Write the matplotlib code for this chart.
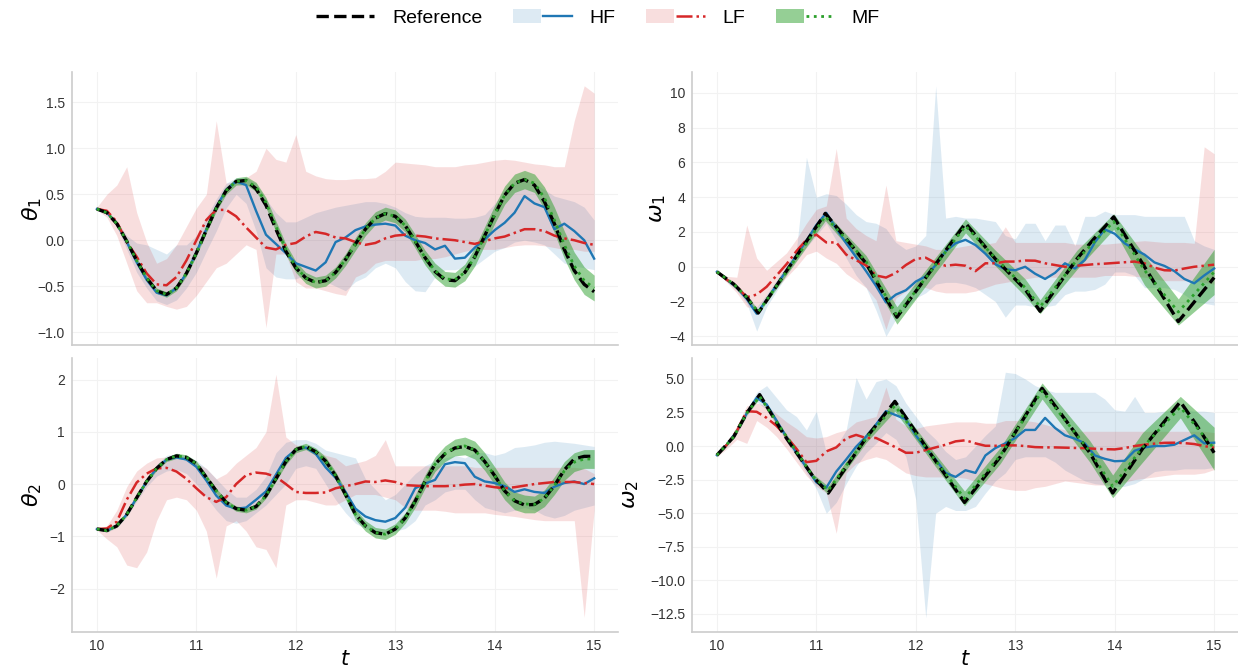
import numpy as np
import matplotlib.pyplot as plt
from matplotlib.legend_handler import HandlerTuple

plt.rcParams['font.family'] = ['Liberation Sans', 'DejaVu Sans']

# common time grid for HF / LF (and MF on the theta panels)
t = np.linspace(10, 15, 51)

# ---------------- theta_1 ----------------
th1_ref = [0.34, 0.30, 0.18, -0.01, -0.22, -0.41, -0.55, -0.59, -0.52, -0.36,
           -0.14, 0.11, 0.35, 0.54, 0.64, 0.65, 0.56, 0.38, 0.12, -0.12,
           -0.30, -0.41, -0.46, -0.44, -0.35, -0.21, -0.04, 0.12, 0.24, 0.29,
           0.26, 0.16, -0.01, -0.19, -0.34, -0.43, -0.44, -0.35, -0.18, 0.05,
           0.28, 0.49, 0.62, 0.66, 0.60, 0.42, 0.18, -0.10, -0.33, -0.48,
           -0.56]
th1_hf = [0.34, 0.30, 0.18, -0.02, -0.24, -0.43, -0.57, -0.60, -0.52, -0.36,
          -0.13, 0.12, 0.36, 0.55, 0.64, 0.60, 0.32, 0.06, -0.04, -0.14,
          -0.25, -0.29, -0.33, -0.24, -0.02, 0.03, 0.11, 0.15, 0.17, 0.18,
          0.16, 0.05, 0.00, -0.03, -0.10, -0.06, -0.20, -0.19, -0.08, 0.01,
          0.11, 0.19, 0.30, 0.48, 0.40, 0.36, 0.12, 0.18, 0.10, 0.00,
          -0.20]
th1_hf_lo = [0.33, 0.28, 0.15, -0.10, -0.35, -0.52, -0.66, -0.70, -0.65, -0.52,
             -0.35, -0.12, 0.10, 0.35, 0.50, 0.40, 0.10, -0.30, -0.40, -0.42,
             -0.42, -0.38, -0.42, -0.45, -0.50, -0.55, -0.45, -0.40, -0.30, -0.25,
             -0.30, -0.45, -0.55, -0.56, -0.40, -0.32, -0.32, -0.30, -0.28, -0.20,
             -0.12, -0.08, -0.02, 0.00, -0.02, -0.05, -0.15, -0.25, -0.28, -0.30,
             -0.32]
th1_hf_hi = [0.35, 0.32, 0.21, 0.05, -0.03, -0.05, -0.10, -0.15, -0.05, -0.05,
             0.05, 0.25, 0.45, 0.62, 0.68, 0.68, 0.62, 0.45, 0.30, 0.20,
             0.20, 0.25, 0.30, 0.33, 0.36, 0.38, 0.40, 0.42, 0.42, 0.40,
             0.36, 0.30, 0.26, 0.25, 0.25, 0.25, 0.24, 0.24, 0.25, 0.28,
             0.40, 0.55, 0.64, 0.66, 0.62, 0.55, 0.48, 0.45, 0.42, 0.36,
             0.22]
th1_lf = [0.34, 0.32, 0.20, -0.02, -0.18, -0.36, -0.48, -0.49, -0.40, -0.22,
          0.00, 0.22, 0.33, 0.33, 0.26, 0.14, 0.03, -0.08, -0.10, -0.05,
          -0.03, 0.04, 0.09, 0.07, 0.03, 0.02, -0.02, -0.05, -0.03, 0.02,
          0.05, 0.06, 0.05, 0.04, 0.02, 0.01, 0.00, -0.02, -0.04, -0.01,
          0.02, 0.04, 0.08, 0.12, 0.12, 0.10, 0.05, 0.02, 0.00, -0.03,
          -0.05]
th1_lf_lo = [0.33, 0.25, 0.05, -0.25, -0.55, -0.68, -0.68, -0.72, -0.75, -0.72,
             -0.60, -0.45, -0.30, -0.25, -0.15, -0.05, -0.10, -0.95, -0.15, -0.15,
             -0.45, -0.52, -0.52, -0.55, -0.58, -0.60, -0.40, -0.35, -0.25, -0.22,
             -0.22, -0.22, -0.22, -0.20, -0.20, -0.18, -0.15, -0.12, -0.10, -0.10,
             -0.10, -0.08, -0.06, -0.05, -0.05, -0.06, -0.08, -0.10, -0.10, -0.12,
             -0.12]
th1_lf_hi = [0.36, 0.50, 0.60, 0.80, 0.30, -0.02, -0.25, -0.20, -0.05, 0.15,
             0.35, 0.50, 1.30, 0.62, 0.64, 0.68, 0.75, 1.00, 0.88, 0.85,
             1.15, 0.75, 0.70, 0.67, 0.66, 0.66, 0.67, 0.67, 0.68, 0.75,
             0.85, 0.84, 0.83, 0.82, 0.80, 0.80, 0.80, 0.82, 0.83, 0.85,
             0.87, 0.88, 0.87, 0.85, 0.83, 0.82, 0.80, 0.80, 1.30, 1.68,
             1.60]
th1_mf = [0.34, 0.30, 0.18, -0.01, -0.22, -0.41, -0.55, -0.59, -0.52, -0.36,
          -0.14, 0.11, 0.35, 0.54, 0.64, 0.65, 0.58, 0.41, 0.15, -0.10,
          -0.29, -0.41, -0.46, -0.44, -0.35, -0.21, -0.04, 0.12, 0.24, 0.29,
          0.26, 0.16, -0.01, -0.19, -0.33, -0.42, -0.43, -0.35, -0.18, 0.05,
          0.28, 0.49, 0.62, 0.66, 0.62, 0.46, 0.22, -0.05, -0.28, -0.44,
          -0.52]
th1_mf_hw = [0.01, 0.01, 0.015, 0.02, 0.02, 0.025, 0.03, 0.03, 0.03, 0.03,
             0.03, 0.03, 0.035, 0.04, 0.04, 0.045, 0.05, 0.055, 0.06, 0.06,
             0.06, 0.06, 0.06, 0.06, 0.06, 0.065, 0.07, 0.07, 0.07, 0.07,
             0.07, 0.07, 0.075, 0.08, 0.08, 0.08, 0.08, 0.09, 0.10, 0.10,
             0.10, 0.10, 0.10, 0.10, 0.10, 0.12, 0.14, 0.15, 0.15, 0.15,
             0.14]

# ---------------- omega_1 ----------------
w1_ref_t = [10.0, 10.17, 10.3, 10.415, 11.09, 11.5, 11.81, 12.5, 12.8, 13.1,
            13.25, 13.45, 13.62, 13.79, 13.99, 14.64, 15.0]
w1_ref = [-0.29, -1.0, -1.75, -2.66, 3.07, 0.2, -2.9, 2.5, 0.45, -1.3,
          -2.56, -0.91, 0.45, 1.6, 2.87, -3.15, -0.62]
w1_hf = [-0.29, -0.75, -1.2, -1.85, -2.7, -1.9, -1.05, -0.2, 0.65, 1.5,
         2.4, 3.1, 2.2, 1.35, 0.55, -0.25, -1.1, -2.05, -1.6, -1.35,
         -0.85, -0.55, 0.1, 0.9, 1.35, 1.55, 1.25, 0.75, 0.15, -0.15,
         -0.2, 0.0, -0.4, -0.7, -0.35, 0.2, -0.1, 0.4, 1.4, 2.15,
         1.9, 1.35, 1.0, 0.7, 0.25, 0.05, -0.25, -0.7, -0.95, -0.5,
         -0.1]
w1_hf_lo = [-0.35, -0.85, -1.35, -2.1, -3.7, -2.3, -1.4, -0.5, 0.3, 1.1,
            1.8, 2.5, 1.5, 0.5, -0.5, -1.2, -2.5, -4.0, -3.0, -2.4,
            -1.8, -1.5, -1.0, -0.9, -0.9, -1.0, -1.2, -1.6, -2.0, -2.9,
            -2.2, -2.2, -2.3, -2.3, -2.2, -1.6, -1.4, -1.4, -1.3, -1.0,
            -0.3, -0.3, -0.5, -1.2, -1.2, -1.2, -1.3, -1.6, -2.0, -2.1,
            -2.2]
w1_hf_hi = [-0.22, -0.65, -1.05, -1.6, -2.3, -1.6, -0.75, 0.1, 1.0, 6.3,
            4.0, 4.2, 4.1, 3.6, 3.0, 2.6, 2.5, 2.2, 1.4, 1.0,
            1.2, 1.8, 10.4, 2.8, 2.9, 2.8, 2.8, 2.7, 2.6, 1.8,
            1.6, 2.5, 2.5, 1.5, 2.4, 2.4, 1.2, 2.9, 2.9, 3.2,
            3.0, 3.0, 3.0, 2.9, 2.9, 2.9, 2.9, 2.9, 1.5, 1.2,
            1.0]
w1_lf = [-0.29, -0.75, -1.15, -1.75, -1.6, -1.15, -0.5, 0.15, 0.9, 1.55,
         1.85, 1.4, 1.4, 0.7, 0.38, 0.08, -0.5, -0.62, -0.35, 0.1,
         0.45, 0.52, 0.22, 0.06, 0.12, 0.06, -0.25, 0.2, 0.2, 0.3,
         0.3, 0.36, 0.35, 0.2, 0.1, 0.0, 0.05, 0.1, 0.15, 0.18,
         0.22, 0.26, 0.3, 0.2, -0.05, -0.2, -0.22, -0.1, 0.0, 0.06,
         0.12]
w1_lf_lo = [-0.35, -0.9, -1.5, -2.3, -2.4, -1.8, -1.2, -0.6, 0.0, 0.7,
            0.9, 0.5, 0.2, -0.4, -0.8, -1.2, -1.9, -3.6, -1.8, -1.4,
            -1.1, -1.2, -1.4, -1.5, -1.5, -1.5, -1.4, -1.2, -1.0, -0.9,
            -0.8, -0.7, -0.6, -0.6, -0.6, -0.6, -0.6, -0.6, -0.6, -0.5,
            -0.5, -0.5, -0.55, -0.6, -0.7, -0.8, -0.8, -0.8, -0.8, -0.9,
            -1.0]
w1_lf_hi = [-0.22, -0.55, -0.6, 2.4, 0.5, -0.2, 0.3, 0.8, 1.6, 2.5,
            3.3, 3.5, 6.8, 2.8, 2.2, 1.8, 1.5, 4.7, 1.5, 1.4,
            1.3, 1.2, 1.0, 1.0, 1.1, 1.2, 1.3, 1.3, 1.4, 2.3,
            1.4, 1.4, 1.4, 1.4, 1.4, 1.4, 1.3, 1.3, 1.3, 1.3,
            1.35, 1.4, 1.45, 1.5, 1.45, 1.4, 1.4, 1.4, 1.35, 6.9,
            6.5]
w1_mf_t = [10.0, 10.17, 10.3, 10.415, 11.09, 11.5, 11.81, 12.5, 12.8, 13.1,
           13.25, 13.62, 13.99, 14.3, 14.64, 15.0]
w1_mf = [-0.29, -1.0, -1.75, -2.6, 2.9, 0.3, -2.8, 2.35, 0.5, -1.2,
         -2.3, 0.4, 2.6, -0.2, -2.6, -0.3]
w1_mf_hw = [0.05, 0.05, 0.08, 0.12, 0.25, 0.35, 0.5, 0.4, 0.45, 0.5,
            0.4, 0.55, 0.45, 0.85, 0.75, 1.3]

# ---------------- theta_2 ----------------
th2_ref = [-0.86, -0.89, -0.80, -0.58, -0.26, 0.05, 0.30, 0.47, 0.54, 0.51,
           0.39, 0.13, -0.13, -0.35, -0.47, -0.50, -0.43, -0.22, 0.10, 0.43,
           0.66, 0.72, 0.62, 0.44, 0.16, -0.20, -0.58, -0.80, -0.93, -0.96,
           -0.86, -0.65, -0.33, 0.05, 0.38, 0.58, 0.69, 0.72, 0.65, 0.43,
           0.16, -0.13, -0.32, -0.40, -0.39, -0.27, -0.03, 0.27, 0.48, 0.53,
           0.53]
th2_hf = [-0.86, -0.89, -0.80, -0.58, -0.26, 0.05, 0.30, 0.47, 0.51, 0.47,
          0.33, 0.07, -0.22, -0.41, -0.47, -0.45, -0.30, -0.14, 0.18, 0.50,
          0.66, 0.70, 0.58, 0.32, 0.12, -0.15, -0.47, -0.62, -0.69, -0.72,
          -0.65, -0.45, -0.08, 0.01, 0.08, 0.38, 0.42, 0.40, 0.14, 0.05,
          0.02, -0.04, -0.15, -0.10, -0.15, -0.17, -0.05, 0.02, 0.05, 0.00,
          0.11]
th2_hf_lo = [-0.88, -0.92, -0.84, -0.63, -0.33, -0.05, 0.15, 0.25, 0.28, 0.20,
             0.00, -0.25, -0.50, -0.70, -0.75, -0.70, -0.55, -0.40, -0.20, 0.00,
             0.30, 0.35, 0.30, 0.00, -0.30, -0.55, -0.75, -0.85, -0.90, -0.95,
             -0.90, -0.85, -0.70, -0.40, -0.30, -0.15, -0.10, -0.10, -0.30, -0.45,
             -0.50, -0.55, -0.50, -0.45, -0.50, -0.60, -0.65, -0.60, -0.50, -0.45,
             -0.40]
th2_hf_hi = [-0.84, -0.86, -0.76, -0.52, -0.20, 0.12, 0.38, 0.55, 0.58, 0.55,
             0.45, 0.30, 0.10, -0.10, -0.25, -0.25, -0.10, 0.15, 0.60, 0.80,
             0.85, 0.85, 0.78, 0.65, 0.60, 0.55, 0.50, 0.10, -0.10, -0.30,
             -0.20, 0.00, 0.20, 0.35, 0.45, 0.50, 0.55, 0.50, 0.60, 0.60,
             0.55, 0.60, 0.70, 0.72, 0.75, 0.80, 0.82, 0.80, 0.78, 0.75,
             0.72]
th2_lf = [-0.86, -0.85, -0.72, -0.30, 0.03, 0.20, 0.30, 0.31, 0.24, 0.10,
          -0.08, -0.25, -0.34, -0.25, 0.00, 0.17, 0.22, 0.20, 0.14, 0.00,
          -0.15, -0.17, -0.17, -0.16, -0.08, -0.04, 0.00, 0.05, 0.04, 0.07,
          0.04, -0.02, -0.03, -0.04, -0.04, -0.04, -0.03, -0.01, 0.00, -0.03,
          -0.06, -0.08, -0.06, -0.03, 0.00, 0.02, 0.04, 0.04, 0.04, 0.02,
          0.00]
th2_lf_lo = [-0.88, -1.05, -1.20, -1.55, -1.60, -1.30, -0.70, -0.30, -0.25, -0.30,
             -0.50, -0.90, -1.80, -0.80, -0.70, -0.90, -1.20, -1.25, -1.60, -0.40,
             -0.30, -0.30, -0.35, -0.40, -0.40, -0.30, -0.20, -0.20, -0.20, -0.25,
             -0.30, -0.45, -0.50, -0.50, -0.50, -0.52, -0.55, -0.55, -0.55, -0.55,
             -0.58, -0.60, -0.62, -0.65, -0.68, -0.70, -0.70, -0.70, -0.70, -2.55,
             -0.50]
th2_lf_hi = [-0.84, -0.80, -0.50, -0.05, 0.25, 0.40, 0.50, 0.52, 0.50, 0.45,
             0.40, 0.30, 0.10, 0.20, 0.40, 0.55, 0.70, 1.00, 2.10, 0.90,
             0.75, 0.70, 0.65, 0.55, 0.50, 0.35, 0.40, 0.45, 0.55, 0.85,
             0.35, 0.35, 0.35, 0.35, 0.35, 0.35, 0.35, 0.35, 0.32, 0.32,
             0.32, 0.32, 0.32, 0.32, 0.32, 0.32, 0.32, 0.32, 0.32, 0.30,
             0.20]
th2_mf = [-0.86, -0.89, -0.80, -0.58, -0.26, 0.05, 0.30, 0.47, 0.54, 0.51,
          0.39, 0.13, -0.13, -0.35, -0.47, -0.50, -0.43, -0.22, 0.10, 0.43,
          0.66, 0.72, 0.62, 0.44, 0.16, -0.20, -0.58, -0.80, -0.93, -0.96,
          -0.86, -0.65, -0.33, 0.05, 0.38, 0.58, 0.70, 0.73, 0.65, 0.43,
          0.16, -0.13, -0.32, -0.38, -0.39, -0.27, -0.03, 0.25, 0.42, 0.48,
          0.48]
th2_mf_hw = [0.02, 0.02, 0.02, 0.03, 0.03, 0.03, 0.04, 0.04, 0.05, 0.05,
             0.05, 0.05, 0.05, 0.05, 0.05, 0.05, 0.05, 0.05, 0.05, 0.06,
             0.06, 0.06, 0.07, 0.08, 0.08, 0.09, 0.10, 0.10, 0.10, 0.10,
             0.10, 0.10, 0.12, 0.13, 0.14, 0.15, 0.16, 0.17, 0.17, 0.17,
             0.17, 0.17, 0.17, 0.17, 0.16, 0.16, 0.17, 0.18, 0.18, 0.18,
             0.18]

# ---------------- omega_2 ----------------
w2_ref_t = [10.0, 10.17, 10.3, 10.43, 10.67, 10.97, 11.12, 11.5, 11.79, 12.17,
            12.49, 12.85, 13.27, 13.57, 13.75, 13.98, 14.28, 14.66, 14.82, 15.0]
w2_ref = [-0.68, 0.7, 2.45, 3.83, 0.9, -2.3, -3.5, 0.6, 3.33, -0.8,
          -4.2, -0.8, 4.3, 1.3, -0.5, -3.5, -0.2, 3.3, 1.6, -0.5]
w2_hf = [-0.68, 0.1, 1.1, 2.45, 3.6, 3.1, 1.9, 0.65, -0.5, -1.6,
         -2.7, -3.1, -1.9, -1.0, -0.05, 0.7, 1.6, 2.6, 2.3, 2.0,
         0.8, -0.2, -1.0, -2.0, -2.3, -1.8, -2.0, -0.7, -0.15, 0.2,
         0.6, 1.2, 1.2, 2.1, 1.35, 0.8, 0.55, 0.2, -0.7, -0.95,
         -1.13, -1.1, -0.35, -0.1, 0.0, 0.0, 0.1, 0.45, 0.8, 0.2,
         0.25]
w2_hf_lo = [-0.8, -0.05, 0.9, 2.2, 3.3, 2.7, 1.5, 0.3, -0.8, -2.0,
            -3.2, -5.0, -4.2, -2.8, -1.5, -0.5, 0.2, 1.0, 0.5, -0.8,
            -4.0, -12.8, -5.0, -4.5, -4.8, -4.8, -4.5, -3.5, -2.6, -2.0,
            -1.0, -0.8, -0.8, -0.8, -1.2, -1.8, -2.2, -2.6, -2.8, -2.9,
            -3.0, -3.0, -2.8, -2.4, -1.9, -1.8, -1.8, -1.7, -1.7, -1.7,
            -1.6]
w2_hf_hi = [-0.55, 0.25, 1.3, 2.7, 4.0, 4.5, 3.6, 2.7, 2.2, 1.2,
            2.6, -0.5, 0.0, 1.2, 5.1, 3.5, 4.8, 5.0, 4.5, 3.2,
            2.2, 1.2, 0.5, -0.4, -1.0, -0.8, 0.0, 0.8, 1.5, 5.5,
            5.4, 5.0, 4.5, 4.2, 4.0, 4.0, 4.0, 4.0, 4.0, 3.5,
            2.7, 2.6, 3.7, 2.5, 2.5, 2.6, 2.7, 2.7, 2.6, 2.6,
            2.5]
w2_lf = [-0.68, 0.1, 1.1, 2.6, 2.55, 2.1, 1.5, 0.7, -0.2, -1.2,
         -1.1, -0.4, -0.1, 0.58, 0.83, 0.6, 0.6, 0.25, -0.1, -0.5,
         -0.5, -0.3, -0.1, 0.1, 0.35, 0.43, 0.2, 0.02, 0.02, 0.05,
         0.05, 0.0, -0.08, -0.1, -0.1, -0.12, -0.14, -0.16, -0.2, -0.23,
         -0.25, -0.15, 0.0, 0.1, 0.18, 0.24, 0.25, 0.22, 0.15, 0.0,
         -0.13]
w2_lf_lo = [-0.8, -0.2, 0.5, 0.2, 1.9, 1.4, 0.7, -0.2, -1.2, -2.2,
            -3.0, -3.5, -6.5, -2.0, -1.3, -1.0, -0.8, -1.0, -1.5, -2.0,
            -2.2, -2.3, -2.3, -2.3, -2.3, -2.4, -2.6, -2.8, -3.0, -3.2,
            -3.3, -3.3, -3.1, -3.0, -2.8, -2.6, -2.7, -2.8, -2.9, -2.9,
            -2.9, -2.7, -2.5, -2.4, -2.3, -2.2, -2.1, -2.1, -2.1, -2.0,
            -1.75]
w2_lf_hi = [-0.55, 0.3, 1.5, 3.0, 3.2, 3.0, 2.4, 1.8, 1.3, 0.7,
            0.6, 0.7, 1.0, 1.2, 1.8, 2.0, 2.2, 4.4, 2.0, 1.5,
            1.3, 1.5, 1.6, 1.7, 1.8, 1.8, 1.8, 1.7, 1.7, 1.9,
            1.9, 1.9, 1.8, 1.6, 1.4, 1.2, 1.1, 1.1, 1.1, 1.1,
            1.1, 1.1, 1.1, 1.1, 1.1, 1.1, 1.1, 1.1, 1.1, 1.1,
            1.0]
w2_mf_t = [10.0, 10.17, 10.3, 10.43, 10.97, 11.12, 11.5, 11.79, 12.17, 12.49,
           12.85, 13.27, 13.75, 13.98, 14.28, 14.66, 15.0]
w2_mf = [-0.68, 0.7, 2.45, 3.7, -2.3, -3.3, 0.6, 3.0, -0.8, -3.9,
         -0.7, 4.1, -0.4, -3.0, -0.1, 2.9, -0.2]
w2_mf_hw = [0.1, 0.1, 0.12, 0.15, 0.2, 0.3, 0.35, 0.4, 0.45, 0.55,
            0.6, 0.6, 0.8, 0.85, 1.1, 0.8, 1.6]

HF_C, LF_C, MF_C = '#1f77b4', '#d62728', '#2ca02c'


def panel(ax, ref_t, ref, hf, hf_lo, hf_hi, lf, lf_lo, lf_hi,
          mf_t, mf, mf_hw, ylabel, yticks, ylim, bottom, label_x):
    mf = np.array(mf)
    mf_hw = np.array(mf_hw)
    h_hf = ax.fill_between(t, hf_lo, hf_hi, color=HF_C, alpha=0.15, lw=0)
    h_lf = ax.fill_between(t, lf_lo, lf_hi, color=LF_C, alpha=0.15, lw=0)
    h_mf = ax.fill_between(mf_t, mf - mf_hw, mf + mf_hw, color=MF_C, alpha=0.5, lw=0)
    l_hf, = ax.plot(t, hf, color=HF_C, lw=1.7)
    l_lf, = ax.plot(t, lf, color=LF_C, lw=1.8, ls='-.')
    l_ref, = ax.plot(ref_t, ref, color='black', lw=2.4, ls='--')
    l_mf, = ax.plot(mf_t, mf, color=MF_C, lw=2.0, ls=':')

    ax.set_xlim(9.75, 15.24)
    ax.set_ylim(*ylim)
    ax.set_xticks([10, 11, 12, 13, 14, 15])
    ax.set_yticks(yticks)
    ax.grid(True, color='#f2f2f2', lw=0.8)
    ax.set_axisbelow(True)
    for s in ['top', 'right']:
        ax.spines[s].set_visible(False)
    for s in ['left', 'bottom']:
        ax.spines[s].set_color('#cccccc')
        ax.spines[s].set_linewidth(1.2)
    ax.tick_params(length=0, labelsize=10, labelcolor='#333333', pad=5)
    ax.set_ylabel(ylabel, fontsize=16)
    ax.yaxis.set_label_coords(label_x, 0.5)
    if bottom:
        ax.set_xlabel(r'$t$', fontsize=15, labelpad=-2)
    else:
        ax.tick_params(labelbottom=False)
    return l_ref, (h_hf, l_hf), (h_lf, l_lf), (h_mf, l_mf)


fig = plt.figure(figsize=(12.38, 6.68), dpi=100)
ax1 = fig.add_axes([0.0582, 0.4835, 0.441, 0.4087])
ax2 = fig.add_axes([0.559, 0.4835, 0.441, 0.4087])
ax3 = fig.add_axes([0.0582, 0.0539, 0.441, 0.410])
ax4 = fig.add_axes([0.559, 0.0539, 0.441, 0.410])

handles = panel(ax1, t, th1_ref, th1_hf, th1_hf_lo, th1_hf_hi,
                th1_lf, th1_lf_lo, th1_lf_hi, t, th1_mf, th1_mf_hw,
                r'$\theta_1$', [-1.0, -0.5, 0.0, 0.5, 1.0, 1.5], (-1.14, 1.83), False, -0.051)
panel(ax2, w1_ref_t, w1_ref, w1_hf, w1_hf_lo, w1_hf_hi,
      w1_lf, w1_lf_lo, w1_lf_hi, w1_mf_t, w1_mf, w1_mf_hw,
      r'$\omega_1$', [-4, -2, 0, 2, 4, 6, 8, 10], (-4.5, 11.2), False, -0.044)
panel(ax3, t, th2_ref, th2_hf, th2_hf_lo, th2_hf_hi,
      th2_lf, th2_lf_lo, th2_lf_hi, t, th2_mf, th2_mf_hw,
      r'$\theta_2$', [-2, -1, 0, 1, 2], (-2.83, 2.41), True, -0.051)
panel(ax4, w2_ref_t, w2_ref, w2_hf, w2_hf_lo, w2_hf_hi,
      w2_lf, w2_lf_lo, w2_lf_hi, w2_mf_t, w2_mf, w2_mf_hw,
      r'$\omega_2$', [-12.5, -10.0, -7.5, -5.0, -2.5, 0.0, 2.5, 5.0], (-13.85, 6.55), True, -0.093)

fig.legend(list(handles), ['Reference', 'HF', 'LF', 'MF'],
           loc='upper center', bbox_to_anchor=(0.483, 1.012), ncol=4, frameon=False,
           fontsize=14, handlelength=3.0, handletextpad=0.9, columnspacing=1.6,
           handler_map={tuple: HandlerTuple(ndivide=None, pad=0.1)})

fig.savefig('out.png', dpi=100)
